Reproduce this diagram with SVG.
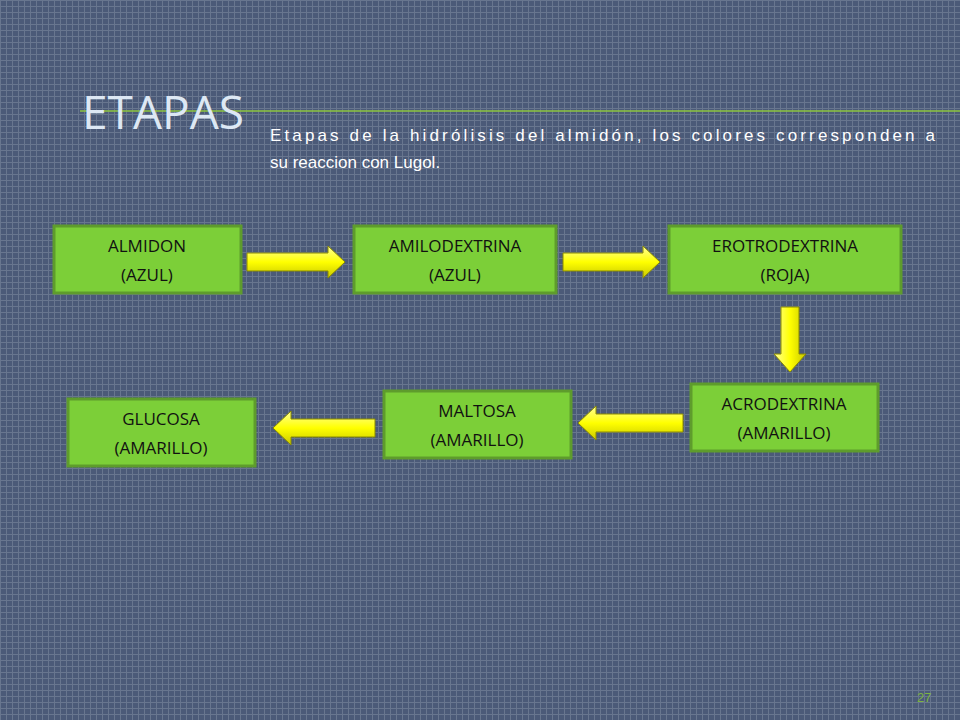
<svg xmlns="http://www.w3.org/2000/svg" width="960" height="720" viewBox="0 0 960 720">
<defs>
<pattern id="grid" width="6" height="6" patternUnits="userSpaceOnUse">
<rect width="6" height="6" fill="#4b5a78"/>
<path d="M0 0.5H6M0.5 0V6" stroke="#68768f" stroke-width="1"/>
</pattern>
<linearGradient id="ah" x1="0" y1="0" x2="0" y2="1">
<stop offset="0" stop-color="#ffff9a"/><stop offset="0.5" stop-color="#ffff00"/><stop offset="1" stop-color="#c8c800"/>
</linearGradient>
<linearGradient id="av" x1="0" y1="0" x2="1" y2="0">
<stop offset="0" stop-color="#ffff9a"/><stop offset="0.5" stop-color="#ffff00"/><stop offset="1" stop-color="#c8c800"/>
</linearGradient>
<style>
.box{fill:#7ccf38;stroke:#5e9c2c;stroke-width:3}
.lbl{font-family:"Open Sans","Liberation Sans",sans-serif;font-size:17px;fill:#111;text-anchor:middle}
.arr{stroke:#8a8a00;stroke-width:1}
</style>
</defs>
<rect width="960" height="720" fill="url(#grid)"/>
<line x1="80" y1="111" x2="960" y2="111" stroke="#8cc63f" stroke-width="1.5"/>
<text x="82" y="129" font-family="Open Sans, Liberation Sans, sans-serif" font-size="46" fill="#dde8f4">ETAPAS</text>
<text font-family="Liberation Sans, Arial, sans-serif" font-size="17" fill="#ffffff">
<tspan x="270" y="141" textLength="665" lengthAdjust="spacing">Etapas de la hidrólisis del almidón, los colores corresponden a</tspan>
<tspan x="270" y="168">su reaccion con Lugol.</tspan>
</text>
<g id="connectors">
<path class="arr" fill="url(#ah)" d="M247 253H328V246L345 262L328 278V271H247Z"/>
<path class="arr" fill="url(#ah)" d="M563 253H643V246L660 262L643 278V271H563Z"/>
<path class="arr" fill="url(#av)" d="M781 307V354H774L790 372L806 354H799V307Z"/>
<path class="arr" fill="url(#ah)" d="M683 414H596V406L578 423L596 440V432H683Z"/>
<path class="arr" fill="url(#ah)" d="M375 419H291V411L273 428L291 445V437H375Z"/>
</g>
<g id="n1"><rect class="box" x="54" y="226" width="187" height="67"/><text class="lbl" x="147" y="252">ALMIDON</text><text class="lbl" x="147" y="281">(AZUL)</text></g>
<g id="n2"><rect class="box" x="354" y="226" width="202" height="67"/><text class="lbl" x="455" y="252">AMILODEXTRINA</text><text class="lbl" x="455" y="281">(AZUL)</text></g>
<g id="n3"><rect class="box" x="669" y="226" width="232" height="67"/><text class="lbl" x="785" y="252">EROTRODEXTRINA</text><text class="lbl" x="785" y="281">(ROJA)</text></g>
<g id="n4"><rect class="box" x="691" y="384" width="187" height="67"/><text class="lbl" x="784" y="410">ACRODEXTRINA</text><text class="lbl" x="784" y="439">(AMARILLO)</text></g>
<g id="n5"><rect class="box" x="384" y="391" width="187" height="67"/><text class="lbl" x="477" y="417">MALTOSA</text><text class="lbl" x="477" y="446">(AMARILLO)</text></g>
<g id="n6"><rect class="box" x="68" y="399" width="187" height="67"/><text class="lbl" x="161" y="425">GLUCOSA</text><text class="lbl" x="161" y="454">(AMARILLO)</text></g>
<text x="917" y="702" font-family="Liberation Sans, sans-serif" font-size="13" fill="#7cb342">27</text>
</svg>
